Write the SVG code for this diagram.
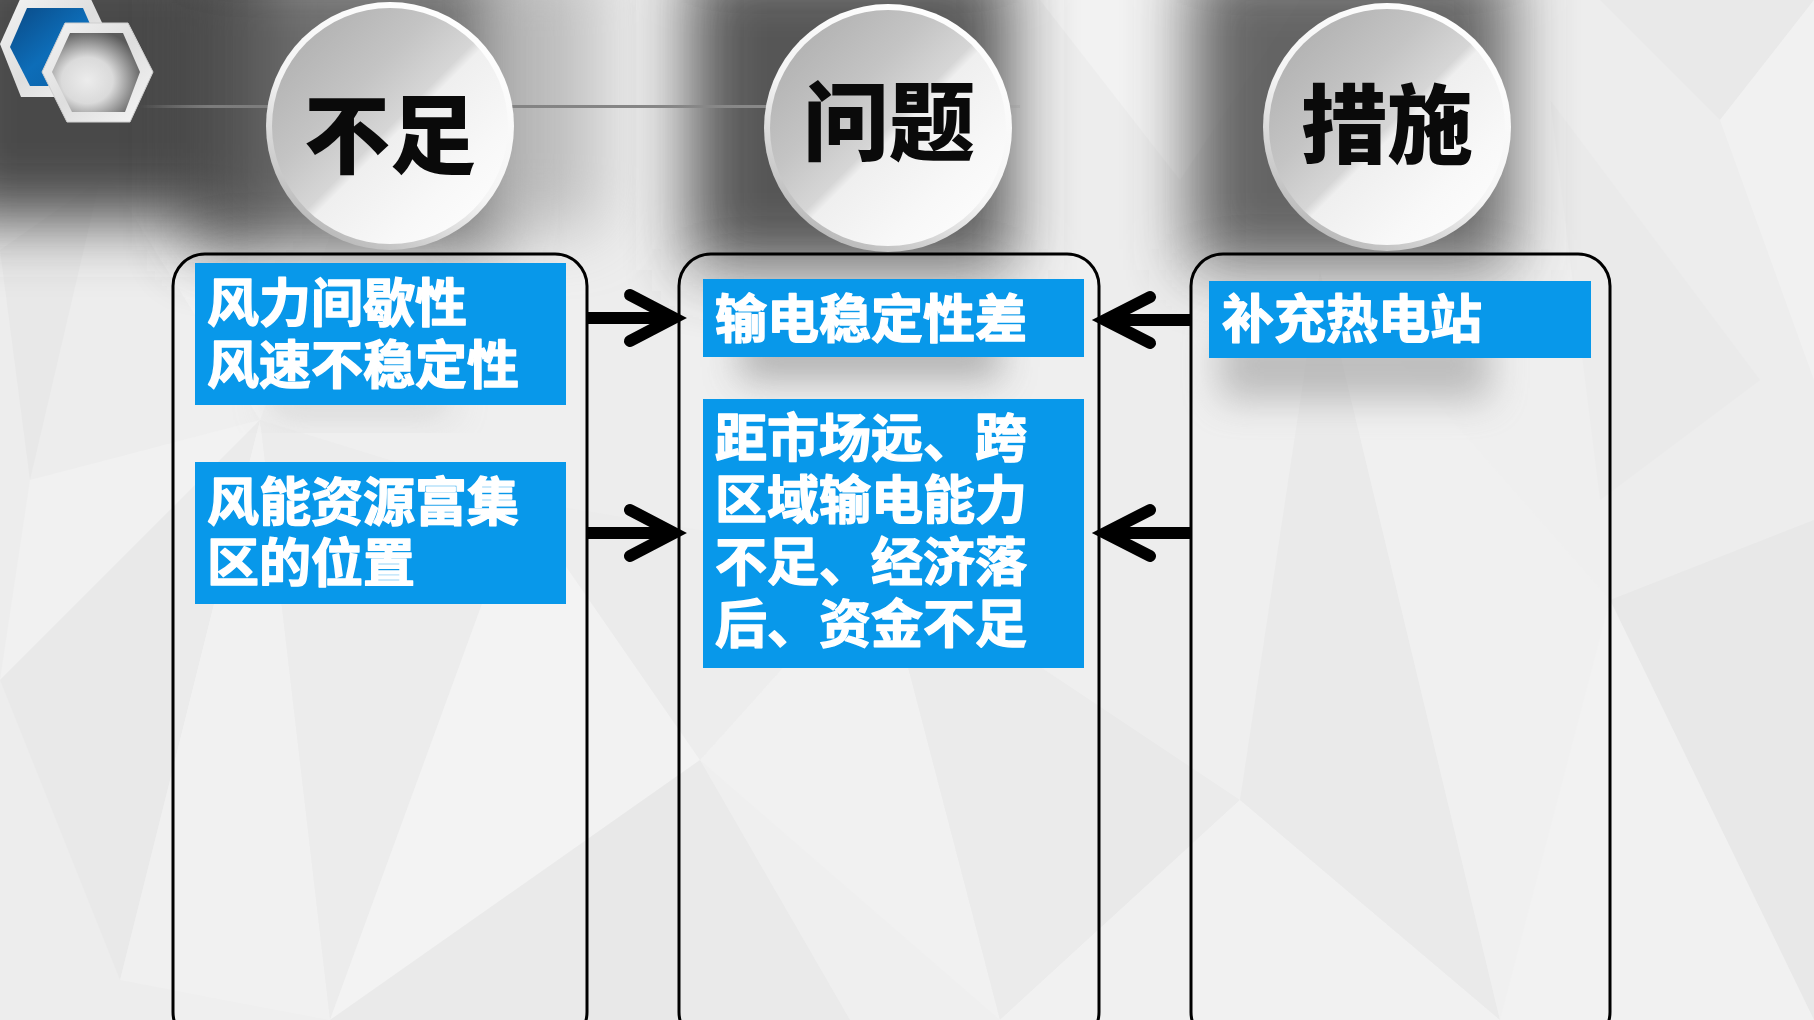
<svg xmlns="http://www.w3.org/2000/svg" width="1814" height="1020" viewBox="0 0 1814 1020">
  <defs>
    <style>
      .label { font-family: "Noto Sans CJK SC", "Noto Sans", sans-serif; font-weight: 700; font-size: 52px; fill: #ffffff; stroke: #ffffff; stroke-width: 1.4px; stroke-linejoin: round; }
      .title { font-family: "Noto Sans CJK SC", "Noto Sans", sans-serif; font-weight: 900; font-size: 86px; fill: #0a0a0a; text-anchor: middle; }
      .panel { fill: #ffffff; fill-opacity: 0.12; stroke: #000000; stroke-width: 3; }
      .tag { fill: #0898ea; }
      .arrow { fill: none; stroke: #000000; stroke-width: 12; stroke-linecap: round; stroke-linejoin: miter; }
      .shaft { stroke: #000000; stroke-width: 12; }
      .tri { stroke: none; }
    </style>
    <filter id="blurBig" x="-60%" y="-60%" width="220%" height="220%">
      <feGaussianBlur stdDeviation="32"/>
    </filter>
    <filter id="blurMid" x="-60%" y="-60%" width="220%" height="220%">
      <feGaussianBlur stdDeviation="18"/>
    </filter>
    <linearGradient id="discFace" x1="0" y1="0" x2="1" y2="1">
      <stop offset="0" stop-color="#a9a9a9"/>
      <stop offset="0.35" stop-color="#c4c4c4"/>
      <stop offset="0.5" stop-color="#d6d6d6"/>
      <stop offset="0.53" stop-color="#efefef"/>
      <stop offset="0.75" stop-color="#f8f8f8"/>
      <stop offset="1" stop-color="#ffffff"/>
    </linearGradient>
    <linearGradient id="discRim" x1="0.2" y1="1" x2="0.8" y2="0">
      <stop offset="0" stop-color="#b0b0b0"/>
      <stop offset="0.45" stop-color="#f4f4f4"/>
      <stop offset="1" stop-color="#ffffff"/>
    </linearGradient>
    <linearGradient id="silver" x1="0" y1="0" x2="1" y2="1">
      <stop offset="0" stop-color="#f4f4f4"/>
      <stop offset="0.5" stop-color="#dedede"/>
      <stop offset="1" stop-color="#f7f7f7"/>
    </linearGradient>
    <linearGradient id="blueHex" x1="0" y1="0" x2="1" y2="1">
      <stop offset="0" stop-color="#0a4a86"/>
      <stop offset="0.5" stop-color="#0d6db8"/>
      <stop offset="1" stop-color="#0a5ea4"/>
    </linearGradient>
    <radialGradient id="hexWell" cx="0.4" cy="0.6" r="0.65">
      <stop offset="0" stop-color="#ececec"/>
      <stop offset="0.45" stop-color="#dadada"/>
      <stop offset="1" stop-color="#5a5a5a"/>
    </radialGradient>
    <linearGradient id="rule" x1="0" y1="0" x2="1" y2="0">
      <stop offset="0" stop-color="#8a8a8a" stop-opacity="0"/>
      <stop offset="0.08" stop-color="#7c7c7c"/>
      <stop offset="0.9" stop-color="#8c8c8c"/>
      <stop offset="1" stop-color="#9a9a9a" stop-opacity="0.3"/>
    </linearGradient>
  </defs>

  <!-- light low-poly backdrop -->
  <rect x="0" y="0" width="1814" height="1020" fill="#ededed"/>
  <g id="backdrop">
    <polygon class="tri" points="0,0 420,0 260,420" fill="#f1f1f1"/>
    <polygon class="tri" points="0,250 100,180 30,480" fill="#e8e8e8"/>
    <polygon class="tri" points="30,480 260,420 0,680" fill="#f1f1f1"/>
    <polygon class="tri" points="0,680 260,420 120,980" fill="#e9e9e9"/>
    <polygon class="tri" points="120,980 260,420 330,1020" fill="#f0f0f0"/>
    <polygon class="tri" points="260,420 520,500 330,1020" fill="#eaeaea"/>
    <polygon class="tri" points="520,500 700,760 330,1020" fill="#f2f2f2"/>
    <polygon class="tri" points="700,760 850,1020 330,1020" fill="#e8e8e8"/>
    <polygon class="tri" points="700,760 880,560 1000,1020" fill="#efefef"/>
    <polygon class="tri" points="880,560 1240,800 1000,1020" fill="#e9e9e9"/>
    <polygon class="tri" points="1240,800 1500,1020 1000,1020" fill="#f0f0f0"/>
    <polygon class="tri" points="1240,800 1320,270 1500,1020" fill="#e8e8e8"/>
    <polygon class="tri" points="1320,270 1610,600 1500,1020" fill="#eeeeee"/>
    <polygon class="tri" points="1610,600 1814,520 1814,1020" fill="#e8e8e8"/>
    <polygon class="tri" points="1610,600 1814,1020 1500,1020" fill="#f1f1f1"/>
    <polygon class="tri" points="1600,0 1720,120 1814,0" fill="#e9e9e9"/>
    <polygon class="tri" points="1550,100 1760,380 1600,500" fill="#eaeaea"/>
    <polygon class="tri" points="1720,120 1814,0 1814,380" fill="#f1f1f1"/>
    <polygon class="tri" points="1040,0 1180,180 1300,0" fill="#f2f2f2"/>
    <polygon class="tri" points="520,500 880,560 700,760" fill="#ebebeb"/>
  </g>

  <!-- soft dark shading behind the discs and the top-left emblem -->
  <g id="shading">
    <rect x="-60" y="-60" width="320" height="280" fill="#4a4a4a" filter="url(#blurBig)"/>
    <rect x="190" y="-40" width="310" height="290" fill="#4e4e4e" opacity="0.8" filter="url(#blurBig)"/>
    <rect x="480" y="-40" width="120" height="270" fill="#a0a0a0" opacity="0.6" filter="url(#blurBig)"/>
    <rect x="690" y="-40" width="320" height="310" fill="#424242" opacity="0.88" filter="url(#blurBig)"/>
    <rect x="1190" y="-40" width="320" height="310" fill="#474747" opacity="0.82" filter="url(#blurBig)"/>
    <rect x="740" y="330" width="260" height="50" fill="#8a8a8a" opacity="0.7" filter="url(#blurMid)"/>
    <rect x="1220" y="330" width="270" height="70" fill="#909090" opacity="0.6" filter="url(#blurMid)"/>
    <rect x="270" y="385" width="180" height="30" fill="#b0b0b0" opacity="0.5" filter="url(#blurMid)"/>
  </g>

  <!-- thin rule through the discs -->
  <rect x="140" y="105" width="880" height="3" fill="url(#rule)"/>

  <!-- top-left emblem -->
  <g id="emblem">
    <polygon points="0,44 21,-3 90,-3 112,44 90,97 21,97" fill="url(#silver)"/>
    <polygon points="10,47 27,8 83,8 100,47 83,86 30,86" fill="url(#blueHex)"/>
    <polygon points="42,72 65,23 128,23 153,72 130,122 67,122" fill="url(#silver)" stroke="#cfcfcf" stroke-width="1"/>
    <polygon points="52,72 70,33 123,33 140,72 125,112 72,112" fill="url(#hexWell)"/>
  </g>

  <!-- column panels -->
  <g id="panel-shortfall">
    <rect class="panel" x="173" y="254" width="414" height="790" rx="32"/>
  </g>
  <g id="panel-issue">
    <rect class="panel" x="679" y="254" width="420" height="790" rx="32"/>
  </g>
  <g id="panel-measure">
    <rect class="panel" x="1191" y="254" width="419" height="790" rx="32"/>
  </g>

  <!-- heading discs -->
  <g id="disc-shortfall">
    <circle cx="390" cy="126" r="124" fill="url(#discRim)"/>
    <circle cx="390" cy="126" r="118" fill="url(#discFace)"/>
    <text class="title" x="390" y="167">不足</text>
  </g>
  <g id="disc-issue">
    <circle cx="888" cy="128" r="124" fill="url(#discRim)"/>
    <circle cx="888" cy="128" r="118" fill="url(#discFace)"/>
    <text class="title" x="889" y="154">问题</text>
  </g>
  <g id="disc-measure">
    <circle cx="1387" cy="127" r="124" fill="url(#discRim)"/>
    <circle cx="1387" cy="127" r="118" fill="url(#discFace)"/>
    <text class="title" x="1387" y="157">措施</text>
  </g>

  <!-- shortfall items -->
  <g id="item-wind-variability">
    <rect class="tag" x="195" y="263" width="371" height="142"/>
    <text class="label" x="207" y="322"><tspan x="207">风力间歇性</tspan><tspan x="207" dy="62">风速不稳定性</tspan></text>
  </g>
  <g id="item-resource-location">
    <rect class="tag" x="195" y="462" width="371" height="142"/>
    <text class="label" x="207" y="521"><tspan x="207">风能资源富集</tspan><tspan x="207" dy="61">区的位置</tspan></text>
  </g>

  <!-- issue items -->
  <g id="item-grid-stability">
    <rect class="tag" x="703" y="279" width="381" height="78"/>
    <text class="label" x="715" y="338">输电稳定性差</text>
  </g>
  <g id="item-transmission">
    <rect class="tag" x="703" y="399" width="381" height="269"/>
    <text class="label" x="715" y="457"><tspan x="715">距市场远、跨</tspan><tspan x="715" dy="62">区域输电能力</tspan><tspan x="715" dy="62">不足、经济落</tspan><tspan x="715" dy="62">后、资金不足</tspan></text>
  </g>

  <!-- measure items -->
  <g id="item-thermal">
    <rect class="tag" x="1209" y="281" width="382" height="77"/>
    <text class="label" x="1222" y="338">补充热电站</text>
  </g>

  <!-- connectors -->
  <g id="connectors">
    <line class="shaft" x1="588" y1="318" x2="668" y2="318"/>
    <polyline class="arrow" points="630,295 674,318 630,341"/>
    <line class="shaft" x1="588" y1="533" x2="668" y2="533"/>
    <polyline class="arrow" points="630,510 674,533 630,556"/>
    <line class="shaft" x1="1190" y1="320" x2="1110" y2="320"/>
    <polyline class="arrow" points="1150,297 1105,320 1150,343"/>
    <line class="shaft" x1="1190" y1="533" x2="1110" y2="533"/>
    <polyline class="arrow" points="1150,510 1105,533 1150,556"/>
  </g>
</svg>
